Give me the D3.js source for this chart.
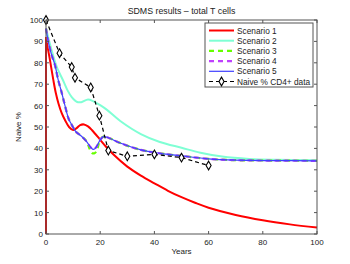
<!DOCTYPE html>
<html>
<head>
<meta charset="utf-8">
<script src="https://cdnjs.cloudflare.com/ajax/libs/d3/7.8.5/d3.min.js"></script>
<style>
body { margin:0; background:#fff; }
svg { font-family: "Liberation Sans", Arial, sans-serif; }
</style>
</head>
<body>
<div id="chart"></div>
<script>
// values: [years, naive %]
var scenario1 = [[0,0],[0,92],[0.5,88],[1.5,81],[2.7,72],[3.6,66],[4.6,61],[5.8,56.5],[7,53.3],[8.5,50],[10,48.6],[11.3,49.5],[12.6,50.9],[14,51.2],[15.5,50.3],[17,48.5],[20,44],[22,41],[25,37],[30,31.5],[35,27.3],[40,23.7],[45,20.2],[50,17.2],[55,14.6],[60,12.3],[70,8.9],[80,6.4],[90,4.5],[100,3]];
var scenario2 = [[0,96],[1,91],[2.5,84],[4,78],[6.4,71.5],[8,67],[9.5,64],[11.5,61.7],[13,61.6],[15.5,62.8],[17.5,62],[20,60.2],[22.5,58],[27.4,52.8],[35,46.7],[42,43],[50,40.3],[57,38],[65,36.2],[75,35.1],[85,34.7],[100,34.5]];
var scenario3 = [[0,96],[1,89],[2,84],[3.3,79],[4.5,72],[5.8,66],[7,60],[8.3,54],[9.5,51],[11,47.8],[13,45.8],[15,43.2],[16.2,39.5],[17,37.8],[18,37.8],[18.8,39.3],[20,44],[21.2,45.5],[23,45],[27.4,42.5],[35,39.3],[42,37.7],[50,36.5],[60,35.1],[70,34.5],[85,34.3],[100,34.2]];
var scenario4 = [[0,96],[1,89],[2,84],[3.3,79],[4.5,72],[5.8,66],[7,60],[8.3,54],[9.5,51],[11,47.8],[13,45.8],[15,43.2],[16.5,40.5],[17.5,39.5],[18.5,40.5],[20,44],[21.2,45.5],[23,45],[27.4,42.5],[35,39.3],[42,37.7],[50,36.5],[60,35.1],[70,34.5],[85,34.3],[100,34.2]];
var scenario5 = scenario4;
var cd4Data = [[0,100],[5,84.5],[9.5,78],[10.7,73],[16.5,68.5],[19.7,55.3],[23,39],[30,36.3],[40,37.2],[50,35.7],[60,32]];
var xTicks = [0,20,40,60,80,100];
var yTicks = [0,10,20,30,40,50,60,70,80,90,100];

var W = 350, H = 264;
var m = {left:46, right:33, top:20, bottom:30};

var svg = d3.select("#chart").append("svg")
    .attr("width",W).attr("height",H);

var x = d3.scaleLinear().domain([0,100]).range([m.left, W-m.right]);
var y = d3.scaleLinear().domain([0,100]).range([H-m.bottom, m.top]);

var series = [
  {name:"Scenario 1", data:scenario1, color:"#ff0000", width:2, dash:null},
  {name:"Scenario 2", data:scenario2, color:"#7fffd4", width:2, dash:null},
  {name:"Scenario 3", data:scenario3, color:"#66ff00", width:2.2, dash:"5,4"},
  {name:"Scenario 4", data:scenario4, color:"#bf40ff", width:2.2, dash:"5,4"},
  {name:"Scenario 5", data:scenario5, color:"#3f3fff", width:1.2, dash:null}
];

var line = d3.line().x(function(d){return x(d[0]);}).y(function(d){return y(d[1]);});
var curve = d3.line().curve(d3.curveCatmullRom.alpha(0.5)).x(function(d){return x(d[0]);}).y(function(d){return y(d[1]);});

var plot = svg.append("g");

series.forEach(function(s){
   var d = s.name=="Scenario 1" ? line(s.data.slice(0,2)) + curve(s.data.slice(1)).replace(/^M[^C]*/,"") : curve(s.data);
   plot.append("path")
       .attr("d", d)
       .attr("fill","none")
       .attr("stroke",s.color)
       .attr("stroke-width",s.width)
       .attr("stroke-dasharray",s.dash);
});

plot.append("path")
    .attr("d",line(cd4Data))
    .attr("fill","none")
    .attr("stroke","#000")
    .attr("stroke-width",1.2)
    .attr("stroke-dasharray","4,3");

var diamond = d3.symbol().type(d3.symbolDiamond).size(22);
plot.selectAll(".pt")
    .data(cd4Data)
    .enter()
    .append("path")
    .classed("pt",true)
    .attr("transform",function(d){return "translate("+x(d[0])+","+y(d[1])+")";})
    .attr("d",diamond)
    .attr("fill","#fff")
    .attr("stroke","#000")
    .attr("stroke-width",1.1);

// box + ticks
var axisColor = "#555";
var x0 = m.left, x1 = W-m.right, y0 = H-m.bottom, y1 = m.top, tl = 3;
svg.append("rect")
   .attr("x",x0).attr("y",y1).attr("width",x1-x0).attr("height",y0-y1)
   .attr("fill","none").attr("stroke",axisColor).attr("stroke-width",1);

xTicks.forEach(function(t){
   svg.append("line").attr("x1",x(t)).attr("x2",x(t)).attr("y1",y0).attr("y2",y0-tl).attr("stroke",axisColor);
   svg.append("line").attr("x1",x(t)).attr("x2",x(t)).attr("y1",y1).attr("y2",y1+tl).attr("stroke",axisColor);
   svg.append("text").attr("x",x(t)).attr("y",y0+11).attr("text-anchor","middle")
      .attr("font-size",8).attr("fill","#222").text(t);
});
yTicks.forEach(function(t){
   svg.append("line").attr("x1",x0).attr("x2",x0+tl).attr("y1",y(t)).attr("y2",y(t)).attr("stroke",axisColor);
   svg.append("line").attr("x1",x1).attr("x2",x1-tl).attr("y1",y(t)).attr("y2",y(t)).attr("stroke",axisColor);
   svg.append("text").attr("x",x0-3).attr("y",y(t)+3).attr("text-anchor","end")
      .attr("font-size",8).attr("fill","#222").text(t);
});

svg.append("text").attr("x",(x0+x1)/2).attr("y",14).attr("text-anchor","middle")
   .attr("font-size",8.8).attr("fill","#222").text("SDMS results \u2013 total T cells");
svg.append("text").attr("x",(x0+x1)/2).attr("y",254).attr("text-anchor","middle")
   .attr("font-size",8).attr("fill","#222").text("Years");
svg.append("text").attr("transform","translate(21,"+((y0+y1)/2)+") rotate(-90)")
   .attr("text-anchor","middle").attr("font-size",8).attr("fill","#222").text("Naive %");

// legend
var lg = svg.append("g").attr("transform","translate(205,23)");
lg.append("rect").attr("width",108).attr("height",64)
  .attr("fill","#fff").attr("stroke",axisColor).attr("stroke-width",1);
var entries = series.concat([{name:"Naive % CD4+ data", color:"#000", width:1.2, dash:"4,3", marker:true}]);
entries.forEach(function(s,i){
   var yy = 7.5 + i*10.2;
   lg.append("line").attr("x1",4).attr("x2",29).attr("y1",yy).attr("y2",yy)
     .attr("stroke",s.color).attr("stroke-width",s.width).attr("stroke-dasharray",s.dash);
   if (s.marker)
      lg.append("path").attr("transform","translate(16.5,"+yy+")").attr("d",diamond)
        .attr("fill","#fff").attr("stroke","#000").attr("stroke-width",1.1);
   lg.append("text").attr("x",32).attr("y",yy+3).attr("font-size",8.3).attr("fill","#222").text(s.name);
});
</script>
</body>
</html>
